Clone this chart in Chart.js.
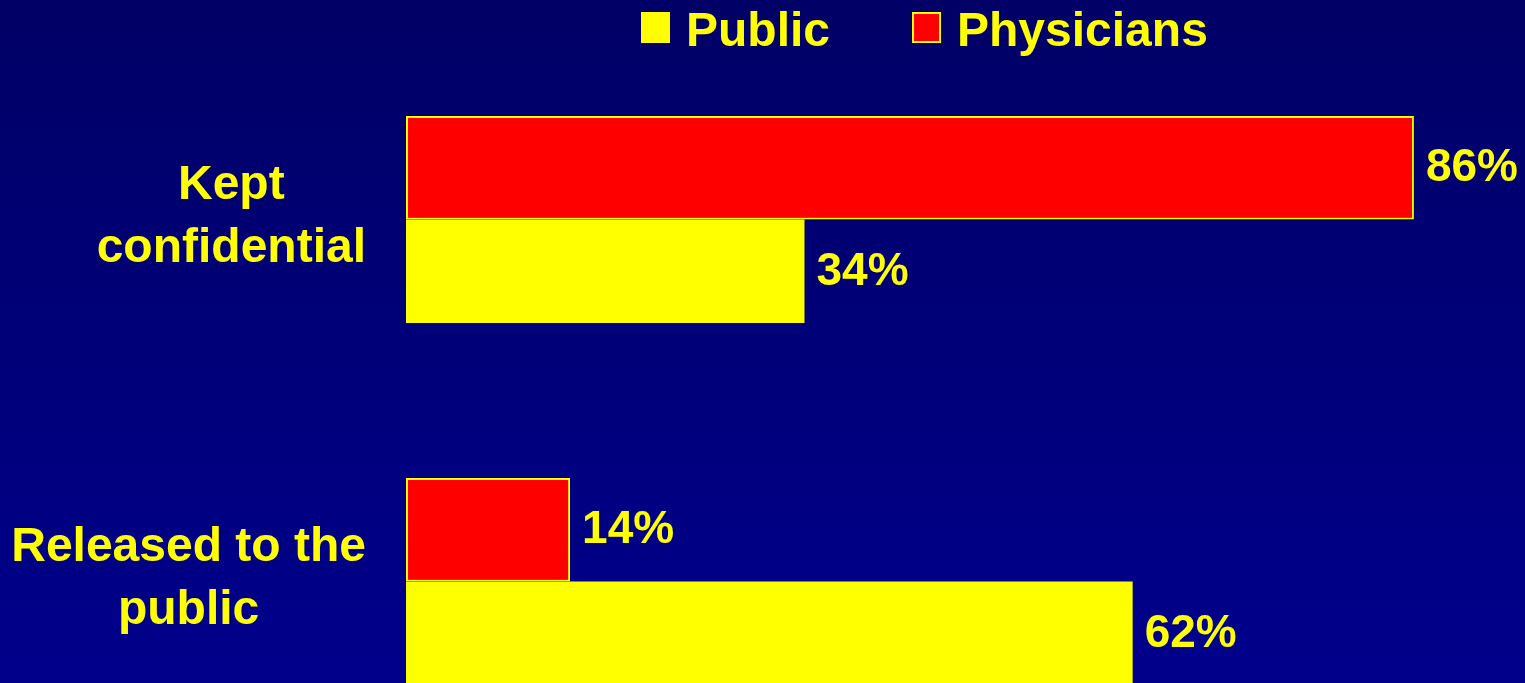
<!DOCTYPE html>
<html>
<head>
<meta charset="utf-8">
<title>Kept confidential vs released to the public</title>
<script src="https://cdn.jsdelivr.net/npm/chart.js@4.4.0/dist/chart.umd.min.js"></script>
<style>
  html, body { margin: 0; padding: 0; overflow: hidden; background: #000066; }
  #wrap {
    width: 1525px; height: 683px; overflow: hidden; position: relative;
    background: linear-gradient(to bottom, #000066 0%, #00008c 100%);
  }
  canvas { position: absolute; left: 0; top: 0; }
</style>
</head>
<body>
<div id="wrap"><canvas id="myChart" width="1578" height="800"></canvas></div>
<script>
// data
const categories = [['Kept', 'confidential'], ['Released to the', 'public']];
const physicians = [86, 14];
const publicValues = [34, 62];
const seriesNames = ['Physicians', 'Public'];

const YELLOW = '#ffff00';
const RED = '#ff0000';
const FONT = '"Liberation Sans", Arial, Helvetica, sans-serif';

// value labels at the end of each bar
const valueLabels = {
  id: 'valueLabels',
  afterDatasetsDraw(chart) {
    const ctx = chart.ctx;
    ctx.save();
    ctx.font = 'bold 46px ' + FONT;
    ctx.fillStyle = YELLOW;
    ctx.textAlign = 'left';
    ctx.textBaseline = 'middle';
    chart.data.datasets.forEach((ds, i) => {
      chart.getDatasetMeta(i).data.forEach((bar, j) => {
        ctx.fillText(ds.data[j] + '%', bar.x + 12, bar.y + 1);
      });
    });
    ctx.restore();
  }
};

// category labels: block right aligned, each line centred in the block
const categoryLabels = {
  id: 'categoryLabels',
  afterDraw(chart) {
    const ctx = chart.ctx;
    const yScale = chart.scales.y;
    ctx.save();
    ctx.font = 'bold 48px ' + FONT;
    ctx.fillStyle = YELLOW;
    ctx.textAlign = 'center';
    ctx.textBaseline = 'middle';
    categories.forEach((lines, i) => {
      const widest = Math.max(...lines.map(l => ctx.measureText(l).width));
      const cx = chart.chartArea.left - 40 - widest / 2;
      const cy = yScale.getPixelForValue(i) - 2;
      lines.forEach((line, k) => {
        ctx.fillText(line, cx, cy + (k - (lines.length - 1) / 2) * 63);
      });
    });
    ctx.restore();
  }
};

// legend drawn at the top, Public first
const topLegend = {
  id: 'topLegend',
  afterDraw(chart) {
    const ctx = chart.ctx;
    const items = chart.options.plugins.legend.labels.generateLabels(chart).reverse();
    ctx.save();
    ctx.font = 'bold 48px ' + FONT;
    ctx.textBaseline = 'alphabetic';
    ctx.textAlign = 'left';
    let x = 641;
    items.forEach(item => {
      ctx.fillStyle = item.fillStyle;
      ctx.fillRect(x, 12, 29, 31);
      ctx.strokeStyle = item.strokeStyle;
      ctx.lineWidth = 2;
      ctx.strokeRect(x + 1, 13, 27, 29);
      ctx.fillStyle = YELLOW;
      ctx.fillText(item.text, x + 45, 46);
      x += 45 + ctx.measureText(item.text).width + 82;
    });
    ctx.restore();
  }
};

new Chart('myChart', {
  type: 'bar',
  data: {
    labels: categories.map(c => c.join(' ')),
    datasets: [
      {
        label: seriesNames[0],
        data: physicians,
        backgroundColor: RED,
        borderColor: YELLOW,
        borderWidth: 2,
        borderSkipped: false
      },
      {
        label: seriesNames[1],
        data: publicValues,
        backgroundColor: YELLOW,
        borderColor: YELLOW,
        borderWidth: 0,
        borderSkipped: false
      }
    ]
  },
  options: {
    indexAxis: 'y',
    responsive: false,
    animation: false,
    devicePixelRatio: 1,
    layout: { padding: { left: 406, right: 0, top: 38.5, bottom: 37.5 } },
    datasets: { bar: { barPercentage: 1, categoryPercentage: 0.572 } },
    scales: {
      x: { display: false, min: 0, max: 100 },
      y: { display: false }
    },
    plugins: {
      legend: { display: false },
      tooltip: { enabled: false }
    }
  },
  plugins: [valueLabels, categoryLabels, topLegend]
});
</script>
</body>
</html>
